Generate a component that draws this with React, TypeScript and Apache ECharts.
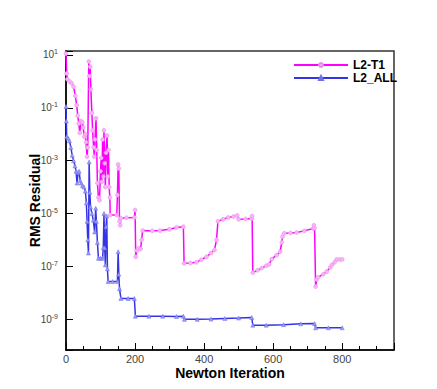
import React, { useEffect, useRef } from "react";
import * as echarts from "echarts";

// Newton iteration numbers and log10(RMS residual) values
const t1Iter = [0, 2, 4, 10, 16, 22, 27, 31, 34, 37, 40, 43, 47, 50, 53, 56, 58, 61, 63, 66, 68, 70, 72, 75, 77, 80, 82, 84, 87, 89, 91, 94, 97, 100, 102, 104, 106, 108, 110, 112, 114, 116, 119, 121, 123, 125, 127, 128, 147, 149, 151, 153, 155, 157, 159, 175, 198, 200, 202, 205, 210, 216, 219, 222, 250, 272, 300, 320, 340, 342, 360, 378, 392, 407, 420, 430, 436, 440, 455, 470, 485, 496, 500, 520, 538, 539, 541, 555, 567, 580, 588, 596, 610, 620, 625, 627, 632, 650, 668, 690, 716, 718, 720, 723, 726, 730, 745, 755, 765, 770, 778, 784, 792, 800];
const t1Log10Res = [1.05, 0.3, 0.08, 0.0, -0.07, -0.2, -0.55, -0.9, -1.3, -1.6, -1.95, -1.5, -1.55, -1.75, -2.1, -2.0, -2.3, -2.85, -2.5, 0.75, 0.2, 0.55, -0.3, -1.2, -1.85, -2.5, -2.85, -2.2, -1.4, -2.6, -3.85, -4.4, -4.5, -3.4, -2.9, -3.8, -2.2, -3.6, -1.85, -3.1, -4.0, -2.7, -2.05, -3.6, -2.6, -4.0, -4.4, -5.06, -5.06, -4.3, -3.15, -3.3, -5.3, -5.45, -5.18, -5.16, -5.15, -4.87, -6.64, -6.4, -6.32, -6.35, -6.0, -5.65, -5.66, -5.65, -5.6, -5.53, -5.5, -6.89, -6.88, -6.85, -6.75, -6.64, -6.5, -6.38, -6.0, -5.3, -5.22, -5.15, -5.12, -5.08, -5.22, -5.21, -5.19, -5.1, -7.24, -7.15, -7.07, -6.98, -6.93, -6.73, -6.58, -6.45, -6.1, -5.88, -5.75, -5.74, -5.72, -5.66, -5.57, -5.45, -5.55, -7.77, -7.5, -7.42, -7.3, -7.2, -7.05, -6.95, -6.85, -6.74, -6.74, -6.74];

const allIter = [0, 1, 2, 6, 10, 14, 18, 22, 26, 29, 32, 35, 38, 41, 44, 48, 52, 56, 59, 61, 63, 65, 67, 69, 71, 75, 79, 83, 86, 88, 91, 94, 100, 106, 108, 110, 112, 114, 116, 118, 120, 122, 135, 149, 151, 153, 155, 159, 180, 198, 201, 240, 280, 320, 340, 343, 380, 420, 460, 500, 538, 541, 580, 630, 680, 720, 723, 760, 800];
const allLog10Res = [-0.95, -1.5, -2.1, -2.15, -2.25, -2.5, -2.8, -3.0, -3.2, -3.4, -3.85, -3.45, -3.4, -3.75, -3.85, -3.95, -4.0, -4.15, -4.6, -5.3, -6.0, -6.5, -3.05, -4.2, -4.75, -5.0, -5.25, -5.7, -4.8, -5.3, -6.1, -6.7, -6.7, -6.7, -6.3, -5.0, -6.3, -6.95, -5.5, -5.1, -7.1, -7.58, -7.58, -7.58, -6.45, -7.3, -7.85, -8.22, -8.22, -8.22, -8.89, -8.89, -8.89, -8.9, -8.89, -9.01, -9.01, -9.0, -8.98, -8.96, -8.94, -9.23, -9.23, -9.21, -9.18, -9.17, -9.33, -9.33, -9.33];

const seriesNames = ["L2-T1", "L2_ALL"];
const xTitle = "Newton Iteration";
const yTitle = "RMS Residual";
const xMin = 0;
const xMax = 950;
const logMin = -10.17; // bottom edge exponent
const logMax = 1.15; // top edge exponent
// shift so that decade ticks land on odd exponents (10^1, 10^-1, ...)
const SHIFT = -1;

const FONT = "'Liberation Sans', Arial, Helvetica, sans-serif";

export default function App() {
  const ref = useRef<HTMLDivElement>(null);
  useEffect(() => {
    if (!ref.current) return;
    const chart = echarts.init(ref.current, undefined, { renderer: "svg" });
    const t1Data = t1Iter.map((x, i) => [x, t1Log10Res[i] + SHIFT]);
    const allData = allIter.map((x, i) => [x, allLog10Res[i] + SHIFT]);
    chart.setOption({
      animation: false,
      backgroundColor: "#ffffff",
      textStyle: { fontFamily: FONT },
      grid: {
        left: 66,
        top: 51,
        right: 43,
        bottom: 39,
        show: true,
        borderColor: "#333",
        borderWidth: 1.5,
        backgroundColor: "transparent",
      },
      legend: {
        orient: "vertical",
        left: 288,
        top: 54,
        itemWidth: 54,
        itemHeight: 5,
        itemGap: 1,
        align: "left",
        textStyle: { fontFamily: FONT, fontSize: 12, fontWeight: "bold", color: "#000" },
        data: seriesNames,
      },
      xAxis: [
        {
          type: "value",
          min: xMin,
          max: xMax,
          interval: 200,
          name: xTitle,
          nameLocation: "middle",
          nameGap: 16,
          nameMoveOverlap: false,
          nameTextStyle: { fontFamily: FONT, fontSize: 14, fontWeight: "bold", color: "#000" },
          axisLine: { show: true, onZero: false, lineStyle: { color: "#000", width: 1.5 } },
          axisTick: { show: true, inside: true, length: 7, lineStyle: { color: "#000", width: 1 } },
          axisLabel: {
            margin: 3,
            fontFamily: FONT,
            fontSize: 11,
            color: "#444",
            formatter: (v: number) => (v % 200 === 0 && v <= 800 ? String(v) : ""),
          },
          splitLine: { show: false },
        },
        {
          type: "value",
          min: xMin,
          max: xMax,
          interval: 50,
          position: "bottom",
          axisLine: { show: false, onZero: false },
          axisTick: { show: true, inside: true, length: 4, lineStyle: { color: "#000", width: 1 } },
          axisLabel: { show: false },
          splitLine: { show: false },
        },
      ],
      yAxis: {
        type: "value",
        min: logMin + SHIFT,
        max: logMax + SHIFT,
        splitNumber: 5,
        minInterval: 2,
        maxInterval: 2,
        name: yTitle,
        nameLocation: "middle",
        nameGap: 24,
        nameMoveOverlap: false,
        nameTextStyle: { fontFamily: FONT, fontSize: 14, fontWeight: "bold", color: "#000" },
        axisLine: { show: true, onZero: false, lineStyle: { color: "#000", width: 1.5 } },
        axisTick: { show: true, inside: true, length: 7, lineStyle: { color: "#000", width: 1 } },
        axisLabel: {
          margin: 8,
          fontFamily: FONT,
          fontSize: 10,
          color: "#444",
          formatter: (v: number) => {
            if (Math.abs(v - Math.round(v)) > 1e-6) return "";
            const e = Math.round(v - SHIFT);
            return "10{sup|" + e + "}";
          },
          rich: {
            sup: { fontSize: 7, color: "#444", fontFamily: FONT, verticalAlign: "top", padding: [0, 0, 6, 0] },
          },
        },
        splitLine: { show: false },
      },
      series: [
        {
          name: seriesNames[0],
          type: "line",
          data: t1Data,
          xAxisIndex: 0,
          showSymbol: true,
          symbol: "circle",
          symbolSize: 4,
          lineStyle: { color: "#ff00ff", width: 1.5 },
          itemStyle: { color: "#f6b4f6", borderColor: "#e88ae8", borderWidth: 0.5 },
          emphasis: { disabled: true },
          z: 3,
        },
        {
          name: seriesNames[1],
          type: "line",
          data: allData,
          xAxisIndex: 0,
          showSymbol: true,
          symbol: "triangle",
          symbolSize: 4,
          lineStyle: { color: "#3434e6", width: 1.5 },
          itemStyle: { color: "#9a9af2", borderColor: "#7070ea", borderWidth: 0.5 },
          emphasis: { disabled: true },
          z: 2,
        },
      ],
    });
    return () => chart.dispose();
  }, []);
  return (
    <div
      ref={ref}
      style={{ position: "absolute", left: 0, top: 0, width: 437, height: 389 }}
    />
  );
}
